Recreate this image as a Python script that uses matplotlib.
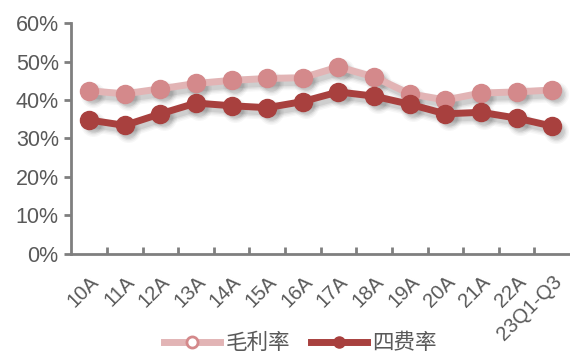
import matplotlib
matplotlib.use("Agg")
import matplotlib.pyplot as plt
import matplotlib.transforms as mtransforms
from matplotlib.ticker import FuncFormatter, FixedLocator

plt.rcParams['font.family'] = ['Liberation Sans', 'Noto Sans CJK SC', 'DejaVu Sans']

years = ["10A", "11A", "12A", "13A", "14A", "15A", "16A", "17A", "18A", "19A",
         "20A", "21A", "22A", "23Q1-Q3"]
gross_margin = [42.4, 41.6, 42.9, 44.3, 45.1, 45.6, 45.8, 48.6, 46.0, 41.6,
                40.0, 41.8, 42.1, 42.6]
expense_ratio = [34.8, 33.4, 36.4, 39.2, 38.5, 38.0, 39.6, 42.1, 41.0, 38.9,
                 36.4, 36.8, 35.3, 33.2]

pink_line = "#E2B4B5"
pink_mark = "#D4898B"
red = "#A8403E"
grey = "#7F7F7F"
text_grey = "#595959"

fig = plt.figure(figsize=(5.7, 3.55), dpi=100)
ax = fig.add_axes([0.125, 0.285, 0.875, 0.65])
x = list(range(len(years)))

# blurred shadow under the lines, faked with stacked translucent strokes
for lw, ms, a in [(11, 18, 0.03), (9, 16, 0.04), (7, 14, 0.055), (5, 12, 0.075)]:
    tr = mtransforms.offset_copy(ax.transData, fig=fig, x=3.5, y=-4.5, units='dots')
    for vals in (gross_margin, expense_ratio):
        ax.plot(x, vals, color="black", alpha=a, lw=lw, marker='o', ms=ms,
                mec='none', transform=tr, zorder=1, solid_capstyle='round')

ax.plot(x, gross_margin, color=pink_line, lw=5, marker='o', ms=13,
        mfc=pink_mark, mec=pink_mark, zorder=3)
ax.plot(x, expense_ratio, color=red, lw=5, marker='o', ms=13,
        mfc=red, mec=red, zorder=4)

ax.set_xlim(-0.5, len(years) - 0.5)
ax.set_ylim(0, 60)
ax.yaxis.set_major_locator(FixedLocator([0, 10, 20, 30, 40, 50, 60]))
ax.yaxis.set_major_formatter(FuncFormatter(lambda v, p: f"{v:.0f}%"))

ax.set_xticks(x)
ax.set_xticklabels(years, rotation=45, ha='right', va='top', rotation_mode='anchor')
ax.set_xticks([i + 0.5 for i in x[:-1]], minor=True)
ax.tick_params(axis='x', which='major', length=0, pad=13, labelsize=14.5, labelcolor=text_grey)
ax.tick_params(axis='x', which='minor', direction='in', length=5, width=2, color=grey)
ax.tick_params(axis='y', direction='out', length=5, width=2, color=grey,
               labelsize=15.5, labelcolor=text_grey, pad=4)

for s in ('top', 'right'):
    ax.spines[s].set_visible(False)
for s in ('left', 'bottom'):
    ax.spines[s].set_color(grey)
    ax.spines[s].set_linewidth(2)

h1, = ax.plot([], [], color=pink_line, lw=5, marker='o', ms=8, mfc='white',
              mec=pink_mark, mew=2)
h2, = ax.plot([], [], color=red, lw=5, marker='o', ms=8, mfc=red, mec=red)
fig.legend([h1, h2], ["毛利率", "四费率"], loc='center', bbox_to_anchor=(0.527, 0.032),
           ncol=2, frameon=False, fontsize=15.5, handlelength=2.6, columnspacing=0.95,
           labelcolor=text_grey, handletextpad=0.25)

fig.savefig("out.png", dpi=100)
